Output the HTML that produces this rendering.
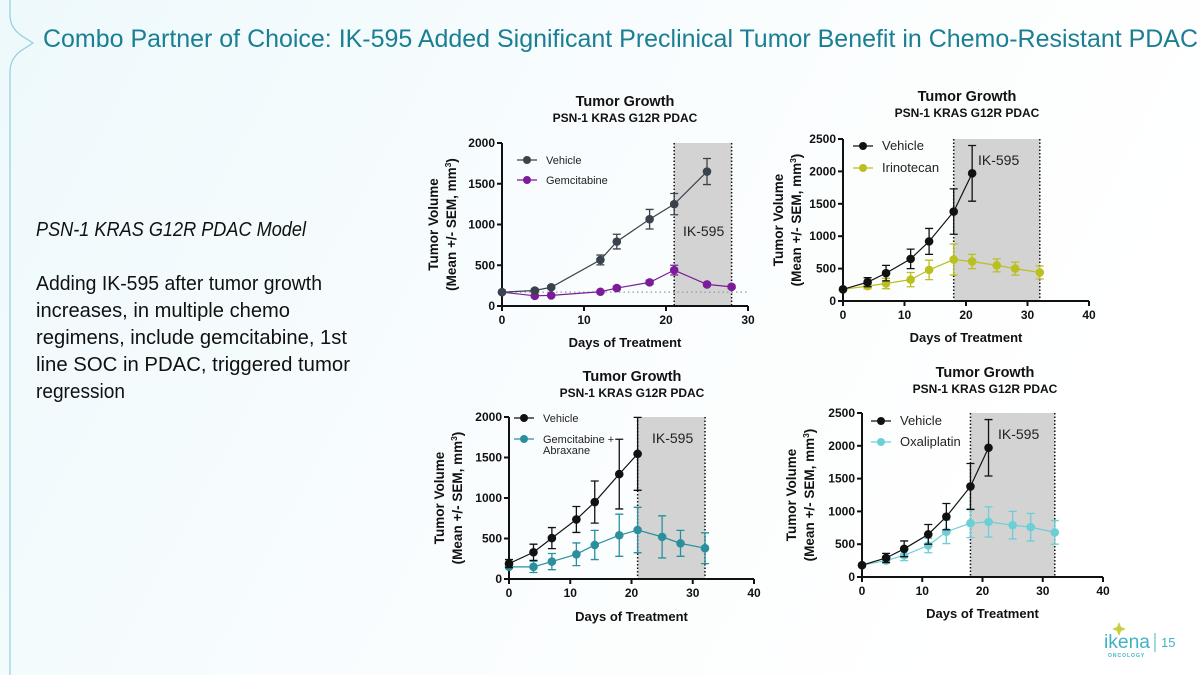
<!DOCTYPE html>
<html><head><meta charset="utf-8"><style>
html,body{margin:0;padding:0;width:1200px;height:675px;overflow:hidden;background:#fff}
svg{display:block;font-family:"Liberation Sans",sans-serif}
</style></head><body>
<svg id="slide" width="1200" height="675" viewBox="0 0 1200 675">
<defs><linearGradient id="bg" x1="0" y1="0" x2="1" y2="0.3"><stop offset="0" stop-color="#eef9fc"/><stop offset="0.6" stop-color="#fafdfe"/><stop offset="1" stop-color="#ffffff"/></linearGradient></defs>
<rect x="0" y="0" width="1200" height="675" fill="url(#bg)"/>
<path d="M10,0 L10,15 Q10,28 22,36 L33,43 L22,50 Q10,58 10,72 L10,675" fill="none" stroke="#8fd0dc" stroke-width="1.2"/>
<text x="43" y="47" font-size="25" fill="#1a7f93" textLength="1155" lengthAdjust="spacingAndGlyphs">Combo Partner of Choice: IK-595 Added Significant Preclinical Tumor Benefit in Chemo-Resistant PDAC</text>
<text x="36" y="236" font-size="20" font-style="italic" fill="#111" textLength="270" lengthAdjust="spacingAndGlyphs">PSN-1 KRAS G12R PDAC Model</text>
<g font-size="20" fill="#111">
<text x="36" y="290" textLength="286" lengthAdjust="spacingAndGlyphs">Adding IK-595 after tumor growth</text>
<text x="36" y="317" textLength="254" lengthAdjust="spacingAndGlyphs">increases, in multiple chemo</text>
<text x="36" y="344" textLength="311" lengthAdjust="spacingAndGlyphs">regimens, include gemcitabine, 1st</text>
<text x="36" y="371" textLength="314" lengthAdjust="spacingAndGlyphs">line SOC in PDAC, triggered tumor</text>
<text x="36" y="398" textLength="89" lengthAdjust="spacingAndGlyphs">regression</text>
</g>
<g>
<path d="M1119,622 l2,5 5,2 -5,2 -2,5 -2,-5 -5,-2 5,-2z" fill="#c8cf3a"/>
<text x="1104" y="648" font-size="19" fill="#3fb3c4" textLength="46" lengthAdjust="spacingAndGlyphs">ikena</text>
<text x="1108" y="657" font-size="5" font-weight="bold" fill="#3fb3c4" letter-spacing="1">ONCOLOGY</text>
<line x1="1155" y1="633" x2="1155" y2="652" stroke="#3fb3c4" stroke-width="1"/>
<text x="1161" y="647" font-size="13" fill="#3fb3c4">15</text>
</g>
<g id="charts"></g>
</svg>
<script>
// ---- data ----
const c1Days = [0,4,6,12,14,18,21,25];
const c1Vehicle = [170,190,230,565,790,1065,1250,1650];
const c1VehicleErr = [0,20,20,60,90,120,130,160];
const c1TreatDays = [0,4,6,12,14,18,21,25,28];
const c1Treat = [170,125,130,175,220,290,440,265,235];
const c1TreatErr = [0,10,10,15,20,25,60,20,20];
const c1XTicks = [0,10,20,30];
const c1YTicks = [0,500,1000,1500,2000];

const c2Days = [0,4,7,11,14,18,21];
const c2Vehicle = [180,290,430,650,920,1380,1970];
const c2VehicleErr = [0,70,120,150,200,350,430];
const c2TreatDays = [0,4,7,11,14,18,21,25,28,32];
const c2Treat = [180,230,270,330,480,640,610,550,500,440];
const c2TreatErr = [0,40,80,110,150,240,110,100,100,100];
const c2XTicks = [0,10,20,30,40];
const c2YTicks = [0,500,1000,1500,2000,2500];

const c3Days = [0,4,7,11,14,18,21];
const c3Vehicle = [190,330,505,735,950,1295,1545];
const c3VehicleErr = [50,100,130,160,260,430,450];
const c3TreatDays = [0,4,7,11,14,18,21,25,28,32];
const c3Treat = [150,150,215,305,420,540,605,520,440,380];
const c3TreatErr = [0,70,100,140,180,260,280,260,160,190];
const c3XTicks = [0,10,20,30,40];
const c3YTicks = [0,500,1000,1500,2000];

const c4Days = [0,4,7,11,14,18,21];
const c4Vehicle = [180,290,430,650,920,1380,1970];
const c4VehicleErr = [0,70,120,150,200,350,430];
const c4TreatDays = [0,4,7,11,14,18,21,25,28,32];
const c4Treat = [180,250,330,480,690,820,840,790,760,680];
const c4TreatErr = [0,30,80,110,180,220,230,210,210,180];
const c4XTicks = [0,10,20,30,40];
const c4YTicks = [0,500,1000,1500,2000,2500];

const NS = 'http://www.w3.org/2000/svg';
const root = document.getElementById('charts');
function el(tag, attrs, parent, text){
  const e = document.createElementNS(NS, tag);
  for (const k in attrs) e.setAttribute(k, attrs[k]);
  if (text !== undefined) e.textContent = text;
  parent.appendChild(e);
  return e;
}
function chart(o){
  const g = el('g', {}, root);
  
  
  const xs = v => o.x0 + (v - o.xMin) / (o.xMax - o.xMin) * (o.x1 - o.x0);
  const ys = v => o.y0 - v / o.yMax * (o.y0 - o.y1);
  const sh = el('rect', {x: xs(o.shade[0]), y: o.y1, width: xs(o.shade[1]) - xs(o.shade[0]), height: o.y0 - o.y1, fill: '#d3d3d3'}, g);
  
  
  o.shade.forEach(d => {
    const l = el('line', {x1: xs(d), x2: xs(d), y1: o.y1, y2: o.y0, stroke: '#111', 'stroke-width': 1.5, 'stroke-dasharray': '1.5,2'}, g);
    
    
  });
  const ik = el('text', {x: o.ikX, y: o.ikY, 'font-size': 14, fill: '#222'}, g, 'IK-595');
  
  
  if (o.baseline) {
    const b = el('line', {x1: o.x0, x2: xs(o.xMax), y1: ys(o.baseline), y2: ys(o.baseline), stroke: '#999', 'stroke-dasharray': '1.5,3', 'stroke-width': 1.2}, g);
    
    
  }
  const ax = el('path', {d: `M${o.x0},${o.y1} V${o.y0} H${o.x1}`, fill: 'none', stroke: '#111', 'stroke-width': 2}, g);
  
  
  o.yTicks.forEach(t => {
    el('line', {x1: o.x0 - 5, x2: o.x0, y1: ys(t), y2: ys(t), stroke: '#111', 'stroke-width': 2}, g);
    const tl = el('text', {x: o.x0 - 7, y: ys(t) + 4, 'font-size': 12, 'font-weight': 'bold', 'text-anchor': 'end', fill: '#111'}, g, t);
    
    
  });
  o.xTicks.forEach(t => {
    el('line', {x1: xs(t), x2: xs(t), y1: o.y0, y2: o.y0 + 5, stroke: '#111', 'stroke-width': 2}, g);
    const tl = el('text', {x: xs(t), y: o.y0 + 18, 'font-size': 12, 'font-weight': 'bold', 'text-anchor': 'middle', fill: '#111'}, g, t);
    
    
  });
  const t1 = el('text', {x: o.tx, y: o.ty, 'font-size': 14.5, 'font-weight': 'bold', 'text-anchor': 'middle', fill: '#111'}, g, 'Tumor Growth');
  
  
  const t2 = el('text', {x: o.tx, y: o.ty + 16, 'font-size': 12, 'font-weight': 'bold', 'text-anchor': 'middle', fill: '#111'}, g, 'PSN-1 KRAS G12R PDAC');
  
  
  const xt = el('text', {x: (o.x0 + o.x1) / 2, y: o.xtY, 'font-size': 13, 'font-weight': 'bold', 'text-anchor': 'middle', fill: '#111'}, g, 'Days of Treatment');
  
  
  const cy = (o.y0 + o.y1) / 2;
  const ya = el('text', {transform: `translate(${o.ylX},${cy}) rotate(-90)`, 'font-size': 13.5, 'font-weight': 'bold', 'text-anchor': 'middle', fill: '#111'}, g, 'Tumor Volume');
  
  
  const yb = el('text', {transform: `translate(${o.ylX + 18},${cy}) rotate(-90)`, 'font-size': 13.5, 'font-weight': 'bold', 'text-anchor': 'middle', fill: '#111'}, g);
  yb.innerHTML = '(Mean +/- SEM, mm<tspan dy="-5" font-size="8.5">3</tspan><tspan dy="5">)</tspan>';
  
  
  const series = [
    {name: 'series-treatment', days: o.tDays, vals: o.tVals, err: o.tErr, color: o.tColor},
    {name: 'series-vehicle', days: o.vDays, vals: o.vVals, err: o.vErr, color: o.vColor}
  ];
  series.forEach(s => {
    const sg = el('g', {}, g);
    
    
    s.days.forEach((d, i) => {
      const x = xs(d), e = s.err[i];
      if (e > 0) {
        const eb = el('path', {d: `M${x},${ys(s.vals[i] - e)} V${ys(s.vals[i] + e)} M${x - 4},${ys(s.vals[i] + e)} h8 M${x - 4},${ys(s.vals[i] - e)} h8`, stroke: s.color, 'stroke-width': 1.3, fill: 'none'}, sg);
        
        
      }
    });
    const line = el('polyline', {points: s.days.map((d, i) => xs(d) + ',' + ys(s.vals[i])).join(' '), fill: 'none', stroke: s.color, 'stroke-width': 1.2}, sg);
    
    
    s.days.forEach((d, i) => {
      const p = el('circle', {cx: xs(d), cy: ys(s.vals[i]), r: 4.3, fill: s.color}, sg);
      
      
    });
  });
  const lg = el('g', {}, g);
  
  
  const entries = [[o.vColor, ['Vehicle']], [o.tColor, o.tLabel]];
  entries.forEach((en, i) => {
    const y = o.lgY + i * o.lgGap;
    const eg = el('g', {}, lg);
    
    
    el('line', {x1: o.lgX, x2: o.lgX + 20, y1: y, y2: y, stroke: en[0], 'stroke-width': 1.3}, eg);
    el('circle', {cx: o.lgX + 10, cy: y, r: 4, fill: en[0]}, eg);
    en[1].forEach((txt, k) => el('text', {x: o.lgX + 29, y: y + 4 + k * 11, 'font-size': o.lgFont, fill: '#222'}, eg, txt));
  });
}
chart({name:'chart-gemcitabine', x0:502, x1:748, xMin:0, xMax:30, y0:306, y1:143, yMax:2000,
  xTicks:c1XTicks, yTicks:c1YTicks, vDays:c1Days, vVals:c1Vehicle, vErr:c1VehicleErr,
  tDays:c1TreatDays, tVals:c1Treat, tErr:c1TreatErr, vColor:'#3a434b', tColor:'#7b1d98',
  tLabel:['Gemcitabine'], shade:[21,28], baseline:170, ikX:683, ikY:236,
  tx:625, ty:106, xtY:347, ylX:438, lgX:517, lgY:160, lgGap:20, lgFont:11});
chart({name:'chart-irinotecan', x0:843, x1:1089, xMin:0, xMax:40, y0:301, y1:139, yMax:2500,
  xTicks:c2XTicks, yTicks:c2YTicks, vDays:c2Days, vVals:c2Vehicle, vErr:c2VehicleErr,
  tDays:c2TreatDays, tVals:c2Treat, tErr:c2TreatErr, vColor:'#111', tColor:'#b9c020',
  tLabel:['Irinotecan'], shade:[18,32], ikX:978, ikY:165,
  tx:967, ty:101, xtY:342, ylX:783, lgX:853, lgY:146, lgGap:22, lgFont:13});
chart({name:'chart-gemcitabine-abraxane', x0:509, x1:754, xMin:0, xMax:40, y0:579, y1:417, yMax:2000,
  xTicks:c3XTicks, yTicks:c3YTicks, vDays:c3Days, vVals:c3Vehicle, vErr:c3VehicleErr,
  tDays:c3TreatDays, tVals:c3Treat, tErr:c3TreatErr, vColor:'#111', tColor:'#2a909e',
  tLabel:['Gemcitabine +','Abraxane'], shade:[21,32], ikX:652, ikY:443,
  tx:632, ty:381, xtY:621, ylX:444, lgX:514, lgY:418, lgGap:21, lgFont:11});
chart({name:'chart-oxaliplatin', x0:862, x1:1103, xMin:0, xMax:40, y0:577, y1:413, yMax:2500,
  xTicks:c4XTicks, yTicks:c4YTicks, vDays:c4Days, vVals:c4Vehicle, vErr:c4VehicleErr,
  tDays:c4TreatDays, tVals:c4Treat, tErr:c4TreatErr, vColor:'#111', tColor:'#6ccfd6',
  tLabel:['Oxaliplatin'], shade:[18,32], ikX:998, ikY:439,
  tx:985, ty:377, xtY:618, ylX:796, lgX:871, lgY:421, lgGap:21, lgFont:13});
</script>
</body></html>
